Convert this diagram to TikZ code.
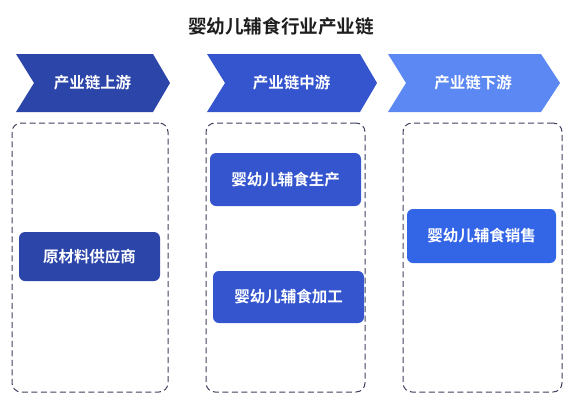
\documentclass[tikz,border=0pt]{standalone}
\usepackage{fontspec}
\setmainfont{Noto Sans CJK SC}[BoldFont={Noto Sans CJK SC Bold}]
\usepackage{tikz}
\usetikzlibrary{positioning}
\definecolor{upblue}{HTML}{2C45A9}
\definecolor{midblue}{HTML}{3455CD}
\definecolor{downblue}{HTML}{5B88F3}
\definecolor{saleblue}{HTML}{3366E6}
\definecolor{dashgray}{HTML}{3E4260}
\definecolor{titlegray}{HTML}{1E1E1E}
\tikzset{
	stagelabel/.style={text=white, font=\bfseries\fontsize{15.5}{18}\selectfont},
	stagebox/.style={draw=dashgray, dash pattern=on 6pt off 3.5pt, line width=1pt, rounded corners=9pt, minimum width=156pt, minimum height=269pt, inner sep=0},
	itembox/.style={rounded corners=6pt, text=white, font=\bfseries\fontsize{15.5}{18}\selectfont, inner sep=0}
}

\begin{document}
\begin{tikzpicture}[x=1pt,y=-1pt]
		\useasboundingbox (0,0) rectangle (566,400);
		% Title
		\node[text=titlegray, font=\bfseries\fontsize{18.6}{21}\selectfont] at (281,26) (title) {婴幼儿辅食行业产业链};
		% Chevrons
		\fill[upblue] (16,54) -- (153,54) -- (170,83) -- (153,112) -- (16,112) -- (34,83) -- cycle;
		\fill[midblue] (207,54) -- (360,54) -- (377,83) -- (360,112) -- (207,112) -- (225,83) -- cycle;
		\fill[downblue] (388,54) -- (541,54) -- (560,83) -- (541,112) -- (388,112) -- (406,83) -- cycle;
		\node[stagelabel] at (92.5,83) (up) {产业链上游};
		\node[stagelabel] at (291.5,83) (mid) {产业链中游};
		\node[stagelabel] at (473,83) (down) {产业链下游};
		% Dashed frames
		\node[stagebox] at (90,257.5) (upframe) {};
		\node[stagebox, minimum width=159pt] at (285.5,257.5) (midframe) {};
		\node[stagebox, minimum width=159pt] at (482.5,257.5) (downframe) {};
		% Links of the chain
		\node[itembox, fill=upblue, minimum width=141pt, minimum height=49pt] at (89.5,256.5) (supply) {原材料供应商};
		\node[itembox, fill=midblue, minimum width=151pt, minimum height=53pt] at (285.5,179.5) (produce) {婴幼儿辅食生产};
		\node[itembox, fill=midblue, minimum width=151pt, minimum height=52pt] at (288.5,297) (process) {婴幼儿辅食加工};
		\node[itembox, fill=saleblue, minimum width=149pt, minimum height=54pt] at (481.5,236) (sale) {婴幼儿辅食销售};
	\end{tikzpicture}
\end{document}
